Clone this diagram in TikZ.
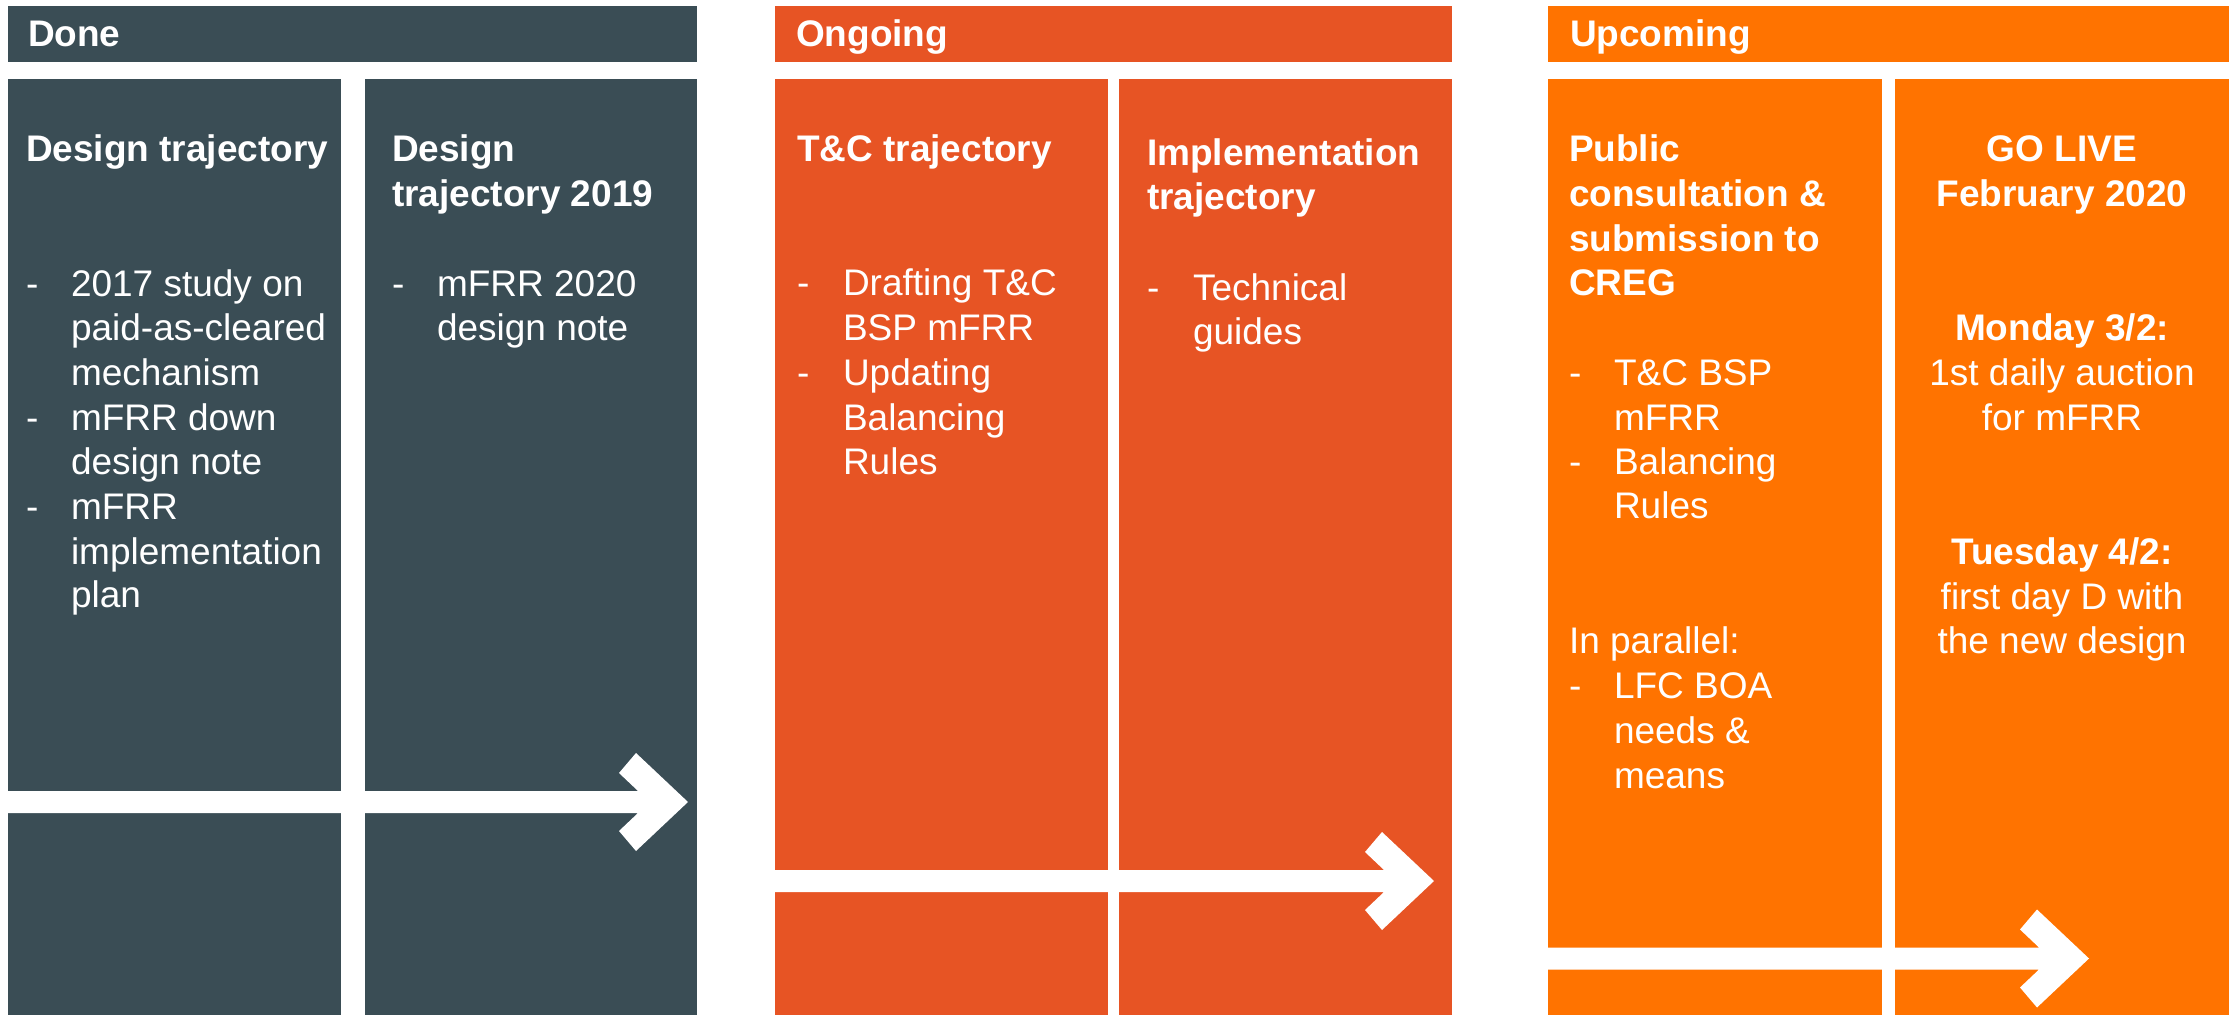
\documentclass[tikz,border=0pt]{standalone}
\usepackage{fontspec}
\setmainfont{Liberation Sans}
\definecolor{donec}{RGB}{58,77,85}
\definecolor{ongoc}{RGB}{231,84,36}
\definecolor{upcoc}{RGB}{255,115,0}
\tikzset{
  txt/.style={inner sep=0pt, outer sep=0pt, anchor=base west, text=white, font=\fontsize{18.5}{22}\selectfont},
  hd/.style={txt, font=\fontsize{18.5}{22}\selectfont\bfseries},
  ctr/.style={txt, anchor=base},
  ctrb/.style={hd, anchor=base},
  wband/.style={fill=white, draw=none},
}
\newcommand\whitearrow[4]{% name, start x, tip x, tip y
  \coordinate (#1) at (#3,#4);
  \fill[wband] (#2,#4-11) -- (#3-50,#4-11) -- (#3-69,#4-29) -- (#3-52,#4-49) -- (#1)
     -- (#3-52,#4+49) -- (#3-69,#4+29) -- (#3-50,#4+11) -- (#2,#4+11) -- cycle;
}
\begin{document}
\begin{tikzpicture}[x=0.5pt,y=-0.5pt]
\useasboundingbox[fill=white] (0,0) rectangle (2239,1015);
% header bars
\fill[donec] (8,6) rectangle (697,62);
\fill[ongoc] (775,6) rectangle (1452,62);
\fill[upcoc] (1548,6) rectangle (2229,62);
% columns
\fill[donec] (8,79) rectangle (341,1015);
\fill[donec] (365,79) rectangle (697,1015);
\fill[ongoc] (775,79) rectangle (1108,1015);
\fill[ongoc] (1119,79) rectangle (1452,1015);
\fill[upcoc] (1548,79) rectangle (1882,1015);
\fill[upcoc] (1895,79) rectangle (2229,1015);
% arrows
\whitearrow{tipA}{8}{688}{802}
\whitearrow{tipB}{775}{1434}{881}
\whitearrow{tipC}{1548}{2089}{958.5}
% header texts
\node[hd] (hDone) at (28,47) {Done};
\node[hd] (hOngo) at (796,47) {Ongoing};
\node[hd] (hUpco) at (1570,47) {Upcoming};
% Done col 1
\node[hd] (d1h) at (26,162) {Design trajectory};
\foreach \yy [count=\i] in {297,431,520} \node[txt] (d1d\i) at (26,\yy) {-};
\foreach \yy/\t [count=\i] in {297/2017 study on,341/paid-as-cleared,386/mechanism,431/mFRR down,475/design note,520/mFRR,565/implementation,608/plan}
  \node[txt] (d1t\i) at (71,\yy) {\t};
% Done col 2
\node[hd] (d2h1) at (392,162) {Design};
\node[hd] (d2h2) at (392,207) {trajectory 2019};
\node[txt] (d2d1) at (392,297) {-};
\node[txt] (d2t1) at (437,297) {mFRR 2020};
\node[txt] (d2t2) at (437,341) {design note};
% Ongoing col 1
\node[hd] (o1h) at (797,162) {T\&C trajectory};
\foreach \yy [count=\i] in {296,386} \node[txt] (o1d\i) at (797,\yy) {-};
\foreach \yy/\t [count=\i] in {296/Drafting T\&C,341/BSP mFRR,386/Updating,431/Balancing,475/Rules}
  \node[txt] (o1t\i) at (843,\yy) {\t};
% Ongoing col 2
\node[hd] (o2h1) at (1147,166) {Implementation};
\node[hd] (o2h2) at (1147,210) {trajectory};
\node[txt] (o2d1) at (1147,301) {-};
\node[txt] (o2t1) at (1193,301) {Technical};
\node[txt] (o2t2) at (1193,345) {guides};
% Upcoming col 1
\foreach \yy/\t [count=\i] in {162/Public,207/consultation \&,252/submission to,296/CREG}
  \node[hd] (u1h\i) at (1569,\yy) {\t};
\foreach \yy [count=\i] in {386,475,699} \node[txt] (u1d\i) at (1569,\yy) {-};
\foreach \yy/\t [count=\i] in {386/T\&C BSP,431/mFRR,475/Balancing,519/Rules,699/LFC BOA,743/needs \&,788/means}
  \node[txt] (u1t\i) at (1614,\yy) {\t};
\node[txt] (u1p) at (1569,654) {In parallel:};
% Upcoming col 2
\node[ctrb] (u2a) at (2062,162) {GO LIVE};
\node[ctrb] (u2b) at (2062,207) {February 2020};
\node[ctrb] (u2c) at (2062,341) {Monday 3/2:};
\node[ctr] (u2d) at (2062,386) {1st daily auction};
\node[ctr] (u2e) at (2062,431) {for mFRR};
\node[ctrb] (u2f) at (2062,565) {Tuesday 4/2:};
\node[ctr] (u2g) at (2062,610) {first day D with};
\node[ctr] (u2h) at (2062,654) {the new design};
\end{tikzpicture}
\end{document}
